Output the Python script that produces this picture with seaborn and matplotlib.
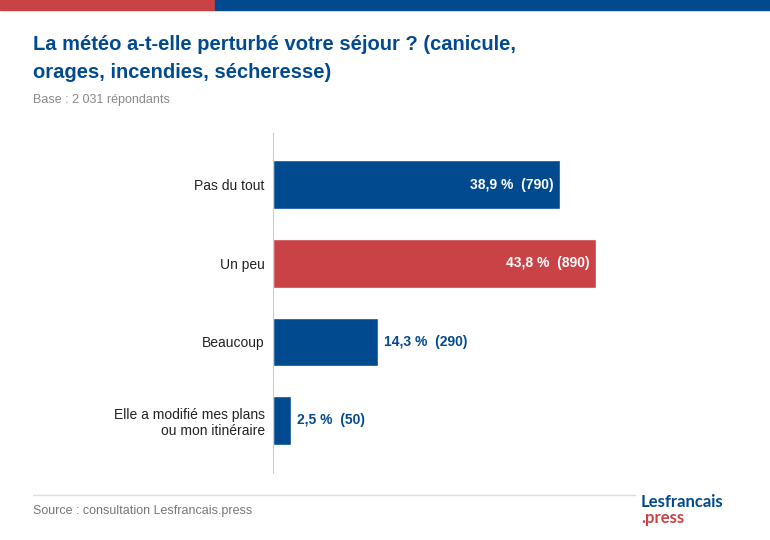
import matplotlib
matplotlib.use("Agg")
import matplotlib.pyplot as plt
import seaborn as sns
import pandas as pd

categories = ["Pas du tout", "Un peu", "Beaucoup", "Elle a modifié mes plans\nou mon itinéraire"]
percents = [38.9, 43.8, 14.3, 2.5]
counts = [790, 890, 290, 50]
colors = ["#024a90", "#c84246", "#024a90", "#024a90"]

BLUE = "#024a90"
RED = "#c84246"

sns.set_theme(style="white")
plt.rcParams["font.family"] = ["Liberation Sans", "DejaVu Sans"]

df = pd.DataFrame({"cat": categories, "pct": percents})

fig = plt.figure(figsize=(7.7, 5.4), dpi=100)
ax = fig.add_axes([273 / 770, 1 - 473 / 540, (740 - 273) / 770, (473 - 133) / 540])

sns.barplot(data=df, x="pct", y="cat", hue="cat", palette=colors, legend=False,
            width=0.62, ax=ax, saturation=1)

for i, (p, n) in enumerate(zip(percents, counts)):
    label = f"{p:.1f} %  ({n})".replace(".", ",")
    if p > 20:
        ax.text(p - 0.8, i, label, ha="right", va="center", color="white",
                fontsize=10, fontweight="bold")
    else:
        ax.text(p + 0.8, i, label, ha="left", va="center", color=BLUE,
                fontsize=10, fontweight="bold")

ax.set_xlim(0, 63.4)
ax.set_ylim(3.67, -0.66)
ax.set_xlabel("")
ax.set_ylabel("")
ax.set_xticks([])
ax.tick_params(axis="y", length=0, pad=6, labelsize=10, labelcolor="#222222")
for s in ["top", "right", "bottom"]:
    ax.spines[s].set_visible(False)
ax.spines["left"].set_color("#cccccc")
ax.spines["left"].set_linewidth(0.8)

# top colour strip
fig.patches.append(plt.Rectangle((0, 1 - 10 / 540), 215 / 770, 10 / 540,
                                 transform=fig.transFigure, color=RED, zorder=5))
fig.patches.append(plt.Rectangle((215 / 770, 1 - 10 / 540), 555 / 770, 10 / 540,
                                 transform=fig.transFigure, color=BLUE, zorder=5))

fig.text(33 / 770, 1 - 45 / 540, "La météo a-t-elle perturbé votre séjour ? (canicule,",
         color=BLUE, fontsize=14.5, fontweight="bold", va="center")
fig.text(33 / 770, 1 - 72 / 540, "orages, incendies, sécheresse)",
         color=BLUE, fontsize=14.5, fontweight="bold", va="center")
fig.text(33 / 770, 1 - 100 / 540, "Base : 2 031 répondants", color="#888888",
         fontsize=9, va="center")

fig.add_artist(plt.Line2D([33 / 770, 635 / 770], [1 - 495 / 540] * 2,
                          transform=fig.transFigure, color="#dddddd", lw=1))
fig.text(33 / 770, 1 - 511 / 540, "Source : consultation Lesfrancais.press",
         color="#777777", fontsize=9, va="center")
fig.text(641 / 770, 1 - 502 / 540, "Lesfrancais", color=BLUE, fontsize=12,
         fontweight="bold", va="center", family=["Lato", "DejaVu Sans"])
fig.text(641 / 770, 1 - 518 / 540, ".press", color=RED, fontsize=12,
         fontweight="bold", va="center", family=["Lato", "DejaVu Sans"])

fig.savefig("out.png", dpi=100)
